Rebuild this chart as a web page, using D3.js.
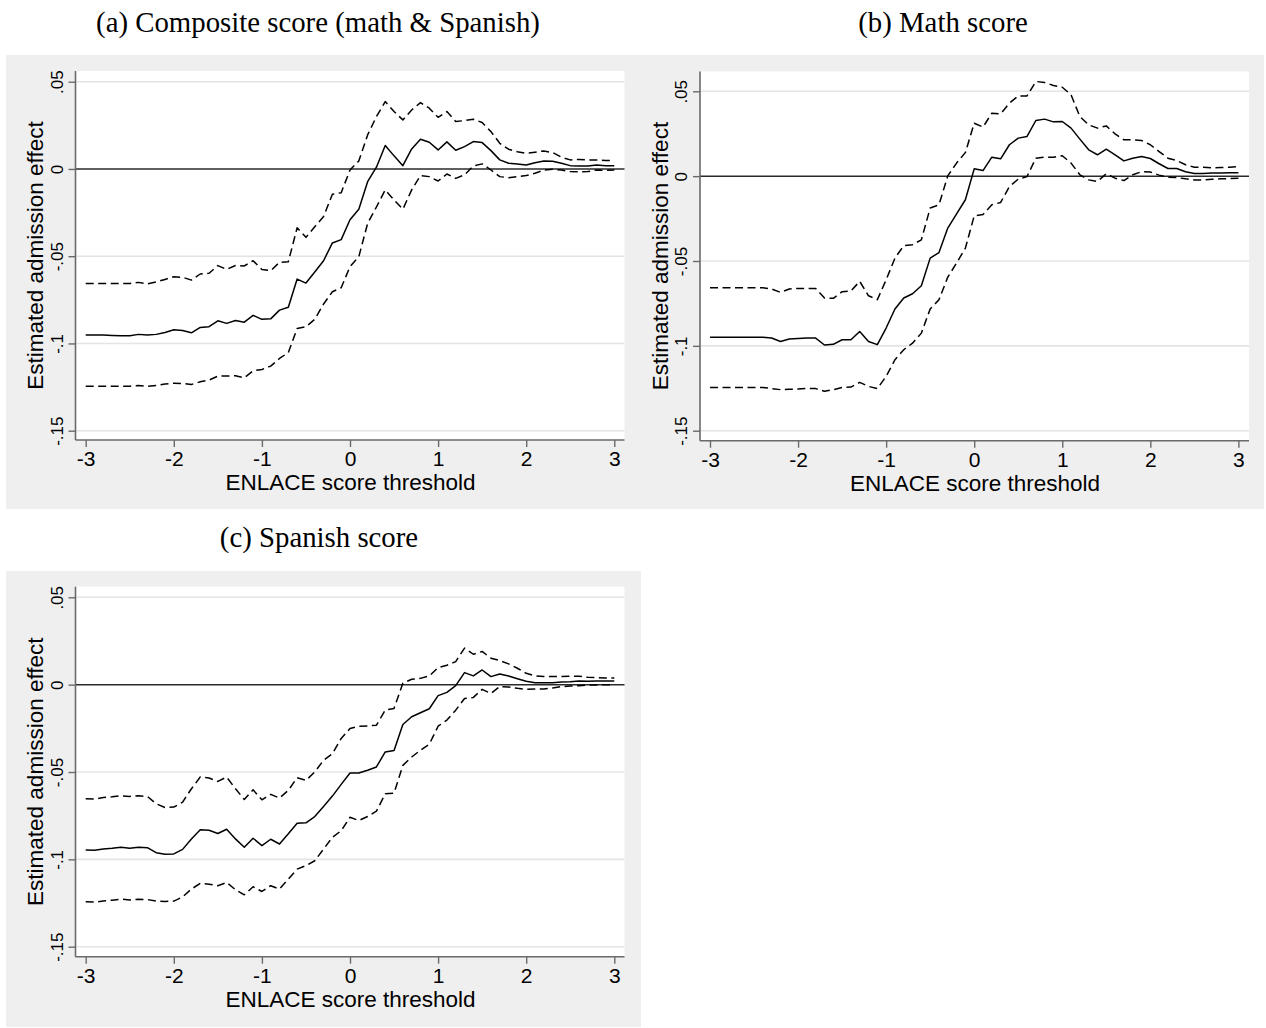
<!DOCTYPE html>
<html>
<head>
<meta charset="utf-8">
<script src="https://cdn.jsdelivr.net/npm/d3@7"></script>
<style>
  html, body { margin: 0; padding: 0; background: #ffffff; }
  svg { display: block; }
</style>
</head>
<body>
<svg id="chart" width="1266" height="1028"></svg>
<script>
// ENLACE score thresholds (x grid, step 0.1)
const thresholds = [
  -3.0, -2.9, -2.8, -2.7, -2.6, -2.5, -2.4, -2.3, -2.2, -2.1,
  -2.0, -1.9, -1.8, -1.7, -1.6, -1.5, -1.4, -1.3, -1.2, -1.1,
  -1.0, -0.9, -0.8, -0.7, -0.6, -0.5, -0.4, -0.3, -0.2, -0.1,
   0.0,  0.1,  0.2,  0.3,  0.4,  0.5,  0.6,  0.7,  0.8,  0.9,
   1.0,  1.1,  1.2,  1.3,  1.4,  1.5,  1.6,  1.7,  1.8,  1.9,
   2.0,  2.1,  2.2,  2.3,  2.4,  2.5,  2.6,  2.7,  2.8,  2.9,
   3.0
];

// (a) Composite score: point estimate and 95% CI bounds
const compositeEst = [
  -0.0952, -0.0952, -0.0952, -0.0954, -0.0956, -0.0956, -0.0948, -0.0952, -0.0948, -0.0937,
  -0.0922, -0.0926, -0.0939, -0.0908, -0.0904, -0.0870, -0.0885, -0.0868, -0.0878, -0.0839,
  -0.0862, -0.0859, -0.0809, -0.0793, -0.0631, -0.0654, -0.0591, -0.0526, -0.0424, -0.0405,
  -0.0291, -0.0231, -0.0073,  0.0010,  0.0134,  0.0075,  0.0019,  0.0115,  0.0170,  0.0153,
   0.0109,  0.0155,  0.0107,  0.0128,  0.0157,  0.0151,  0.0105,  0.0052,  0.0033,  0.0029,
   0.0023,  0.0036,  0.0046,  0.0044,  0.0033,  0.0019,  0.0017,  0.0017,  0.0023,  0.0019,
   0.0019
];
const compositeHi = [
  -0.0656, -0.0656, -0.0656, -0.0656, -0.0656, -0.0656, -0.0650, -0.0658, -0.0648, -0.0633,
  -0.0618, -0.0621, -0.0637, -0.0602, -0.0598, -0.0554, -0.0576, -0.0553, -0.0556, -0.0526,
  -0.0576, -0.0583, -0.0535, -0.0532, -0.0337, -0.0392, -0.0331, -0.0273, -0.0145, -0.0136,
  -0.0006,  0.0046,  0.0195,  0.0300,  0.0386,  0.0329,  0.0281,  0.0338,  0.0380,  0.0348,
   0.0296,  0.0329,  0.0272,  0.0277,  0.0285,  0.0266,  0.0214,  0.0147,  0.0113,  0.0099,
   0.0090,  0.0096,  0.0103,  0.0094,  0.0067,  0.0052,  0.0054,  0.0052,  0.0052,  0.0048,
   0.0048
];
const compositeLo = [
  -0.1245, -0.1245, -0.1245, -0.1245, -0.1245, -0.1245, -0.1241, -0.1245, -0.1241, -0.1233,
  -0.1228, -0.1229, -0.1235, -0.1220, -0.1210, -0.1187, -0.1187, -0.1185, -0.1197, -0.1157,
  -0.1149, -0.1130, -0.1086, -0.1052, -0.0914, -0.0904, -0.0862, -0.0774, -0.0704, -0.0681,
  -0.0560, -0.0503, -0.0312, -0.0218, -0.0120, -0.0178, -0.0231, -0.0120, -0.0038, -0.0044,
  -0.0069, -0.0029, -0.0054, -0.0034,  0.0017,  0.0029, -0.0006, -0.0044, -0.0050, -0.0044,
  -0.0038, -0.0025, -0.0006, -0.0002, -0.0006, -0.0015, -0.0017, -0.0015, -0.0006, -0.0008,
  -0.0006
];

// (b) Math score
const mathEst = [
  -0.0950, -0.0950, -0.0950, -0.0950, -0.0950, -0.0950, -0.0950, -0.0954, -0.0974, -0.0960,
  -0.0956, -0.0954, -0.0954, -0.0995, -0.0991, -0.0964, -0.0964, -0.0915, -0.0974, -0.0993,
  -0.0895, -0.0783, -0.0718, -0.0693, -0.0646, -0.0483, -0.0450, -0.0306, -0.0222, -0.0139,
   0.0043,  0.0033,  0.0112,  0.0102,  0.0185,  0.0224,  0.0234,  0.0328,  0.0336,  0.0320,
   0.0322,  0.0283,  0.0218,  0.0155,  0.0126,  0.0159,  0.0126,  0.0090,  0.0106,  0.0116,
   0.0104,  0.0073,  0.0045,  0.0045,  0.0026,  0.0016,  0.0016,  0.0018,  0.0018,  0.0020,
   0.0020
];
const mathHi = [
  -0.0658, -0.0658, -0.0658, -0.0658, -0.0658, -0.0658, -0.0658, -0.0665, -0.0685, -0.0665,
  -0.0662, -0.0662, -0.0662, -0.0718, -0.0720, -0.0681, -0.0677, -0.0620, -0.0705, -0.0728,
  -0.0611, -0.0483, -0.0410, -0.0404, -0.0375, -0.0188, -0.0169,  0.0002,  0.0077,  0.0139,
   0.0312,  0.0289,  0.0371,  0.0367,  0.0430,  0.0473,  0.0473,  0.0558,  0.0552,  0.0534,
   0.0524,  0.0479,  0.0351,  0.0302,  0.0283,  0.0296,  0.0249,  0.0214,  0.0214,  0.0210,
   0.0185,  0.0145,  0.0106,  0.0092,  0.0067,  0.0053,  0.0053,  0.0049,  0.0051,  0.0053,
   0.0057
];
const mathLo = [
  -0.1245, -0.1245, -0.1245, -0.1245, -0.1245, -0.1245, -0.1245, -0.1252, -0.1258, -0.1256,
  -0.1254, -0.1251, -0.1252, -0.1268, -0.1258, -0.1245, -0.1243, -0.1215, -0.1239, -0.1252,
  -0.1180, -0.1082, -0.1023, -0.0984, -0.0925, -0.0783, -0.0728, -0.0595, -0.0512, -0.0424,
  -0.0234, -0.0226, -0.0169, -0.0155, -0.0061, -0.0018, -0.0002,  0.0106,  0.0112,  0.0112,
   0.0120,  0.0077,  0.0008, -0.0022, -0.0031,  0.0014, -0.0012, -0.0026,  0.0008,  0.0026,
   0.0024,  0.0006, -0.0006, -0.0008, -0.0016, -0.0022, -0.0022, -0.0018, -0.0016, -0.0014,
  -0.0012
];

// (c) Spanish score
const spanishEst = [
  -0.0946, -0.0948, -0.0941, -0.0937, -0.0931, -0.0937, -0.0931, -0.0933, -0.0962, -0.0971,
  -0.0969, -0.0943, -0.0883, -0.0831, -0.0833, -0.0852, -0.0828, -0.0883, -0.0931, -0.0879,
  -0.0921, -0.0885, -0.0912, -0.0854, -0.0793, -0.0791, -0.0755, -0.0697, -0.0638, -0.0571,
  -0.0506, -0.0506, -0.0490, -0.0471, -0.0385, -0.0377, -0.0228, -0.0184, -0.0161, -0.0138,
  -0.0063, -0.0044, -0.0006,  0.0069,  0.0050,  0.0084,  0.0046,  0.0061,  0.0050,  0.0034,
   0.0019,  0.0011,  0.0011,  0.0011,  0.0015,  0.0017,  0.0021,  0.0019,  0.0021,  0.0021,
   0.0021
];
const spanishHi = [
  -0.0653, -0.0655, -0.0646, -0.0642, -0.0636, -0.0640, -0.0636, -0.0640, -0.0682, -0.0703,
  -0.0701, -0.0672, -0.0596, -0.0529, -0.0534, -0.0554, -0.0529, -0.0596, -0.0657, -0.0602,
  -0.0659, -0.0628, -0.0649, -0.0605, -0.0533, -0.0548, -0.0500, -0.0433, -0.0395, -0.0308,
  -0.0251, -0.0238, -0.0236, -0.0232, -0.0146, -0.0136,  0.0008,  0.0031,  0.0036,  0.0050,
   0.0098,  0.0111,  0.0132,  0.0209,  0.0174,  0.0190,  0.0151,  0.0138,  0.0119,  0.0094,
   0.0065,  0.0050,  0.0046,  0.0046,  0.0046,  0.0048,  0.0048,  0.0042,  0.0040,  0.0038,
   0.0038
];
const spanishLo = [
  -0.1243, -0.1245, -0.1238, -0.1234, -0.1228, -0.1232, -0.1228, -0.1230, -0.1239, -0.1241,
  -0.1239, -0.1215, -0.1170, -0.1138, -0.1142, -0.1151, -0.1132, -0.1174, -0.1203, -0.1157,
  -0.1184, -0.1151, -0.1170, -0.1113, -0.1056, -0.1036, -0.1008, -0.0941, -0.0874, -0.0836,
  -0.0759, -0.0778, -0.0755, -0.0724, -0.0625, -0.0621, -0.0462, -0.0414, -0.0375, -0.0341,
  -0.0238, -0.0203, -0.0146, -0.0079, -0.0073, -0.0027, -0.0050, -0.0011, -0.0013, -0.0021,
  -0.0027, -0.0025, -0.0025, -0.0019, -0.0011, -0.0008, -0.0006, -0.0002, -0.0002,  0.0000,
   0.0000
];

// Axis ticks and their labels
const xTicks = [-3, -2, -1, 0, 1, 2, 3];
const xTickLabels = ["-3", "-2", "-1", "0", "1", "2", "3"];
const yTicks = [0.05, 0, -0.05, -0.1, -0.15];
const yTickLabels = [".05", "0", "-.05", "-.1", "-.15"];

const panelTitles = ["(a) Composite score (math & Spanish)", "(b) Math score", "(c) Spanish score"];
const xTitle = "ENLACE score threshold";
const yTitle = "Estimated admission effect";

// Layout of each panel (pixel boxes)
const panels = [
  { title: panelTitles[0], est: compositeEst, lo: compositeLo, hi: compositeHi,
    titleX: 318, titleY: 31.5,
    bg: [6, 55, 641, 509],
    plot: { left: 75.5, right: 624.5, top: 71, bottom: 440 },
    xr: [85.7, 614.3], yr: [430.7, 81.7] },
  { title: panelTitles[1], est: mathEst, lo: mathLo, hi: mathHi,
    titleX: 943, titleY: 31.5,
    bg: [641, 55, 1264, 509],
    plot: { left: 700, right: 1249, top: 71.5, bottom: 440.7 },
    xr: [710, 1238.4], yr: [430.7, 91.3] },
  { title: panelTitles[2], est: spanishEst, lo: spanishLo, hi: spanishHi,
    titleX: 319, titleY: 546.5,
    bg: [6, 571, 641, 1027],
    plot: { left: 75.5, right: 624.5, top: 586.7, bottom: 956.7 },
    xr: [85.7, 614.3], yr: [946.7, 597.3] }
];

const svg = d3.select("#chart");
const sansFont = "'Liberation Sans', Arial, Helvetica, sans-serif";
const serifFont = "'Liberation Serif', 'Times New Roman', Times, serif";
const axisColor = "#6a6a6a";

panels.forEach(p => {
  const g = svg.append("g");
  const x = d3.scaleLinear().domain([-3, 3]).range(p.xr);
  const y = d3.scaleLinear().domain([-0.15, 0.05]).range(p.yr);
  const pl = p.plot;

  // panel title
  svg.append("text")
    .attr("x", p.titleX).attr("y", p.titleY)
    .attr("text-anchor", "middle")
    .style("font-family", serifFont).style("font-size", "28.8px")
    .attr("fill", "#000")
    .text(p.title);

  // graph background
  g.append("rect")
    .attr("x", p.bg[0]).attr("y", p.bg[1])
    .attr("width", p.bg[2] - p.bg[0]).attr("height", p.bg[3] - p.bg[1])
    .attr("fill", "#efefef");

  // plot region
  g.append("rect")
    .attr("x", pl.left).attr("y", pl.top)
    .attr("width", pl.right - pl.left).attr("height", pl.bottom - pl.top)
    .attr("fill", "#ffffff");

  // horizontal grid lines
  g.append("g").selectAll("line")
    .data(yTicks.filter(v => v !== 0))
    .join("line")
    .attr("x1", pl.left).attr("x2", pl.right)
    .attr("y1", d => y(d)).attr("y2", d => y(d))
    .attr("stroke", "#e4e4e4").attr("stroke-width", 1.6);

  // reference line at zero
  g.append("line")
    .attr("x1", pl.left).attr("x2", pl.right)
    .attr("y1", y(0)).attr("y2", y(0))
    .attr("stroke", "#2a2a2a").attr("stroke-width", 1.5);

  // y axis
  const yAxis = d3.axisLeft(y).tickValues(yTicks).tickSize(7).tickPadding(6)
    .tickFormat((d, i) => yTickLabels[i]);
  const ya = g.append("g").attr("transform", `translate(${pl.left},0)`).call(yAxis);
  ya.select(".domain").attr("d", `M0,${pl.top}V${pl.bottom}`)
    .attr("stroke", axisColor).attr("stroke-width", 1.6);
  ya.selectAll(".tick line").attr("stroke", axisColor).attr("stroke-width", 1.4);
  ya.selectAll(".tick text")
    .attr("x", null).attr("dy", null)
    .attr("transform", "translate(-13,0) rotate(-90)")
    .attr("text-anchor", "middle")
    .attr("fill", "#000")
    .style("font-family", sansFont).style("font-size", "17px");

  // x axis
  const xAxis = d3.axisBottom(x).tickValues(xTicks).tickSize(7).tickPadding(4)
    .tickFormat((d, i) => xTickLabels[i]);
  const xa = g.append("g").attr("transform", `translate(0,${pl.bottom})`).call(xAxis);
  xa.select(".domain").attr("d", `M${pl.left},0H${pl.right}`)
    .attr("stroke", axisColor).attr("stroke-width", 1.6);
  xa.selectAll(".tick line").attr("stroke", axisColor).attr("stroke-width", 1.4);
  xa.selectAll(".tick text")
    .attr("y", 26).attr("dy", null)
    .attr("fill", "#000")
    .style("font-family", sansFont).style("font-size", "21px");

  // axis titles
  g.append("text")
    .attr("x", (pl.left + pl.right) / 2 + 0.5).attr("y", pl.bottom + 50)
    .attr("text-anchor", "middle")
    .style("font-family", sansFont).style("font-size", "22.5px")
    .attr("fill", "#000")
    .text(xTitle);
  g.append("text")
    .attr("transform", `translate(${pl.left - 32.5},${(pl.top + pl.bottom) / 2}) rotate(-90)`)
    .attr("text-anchor", "middle")
    .style("font-family", sansFont).style("font-size", "22.5px")
    .attr("fill", "#000")
    .text(yTitle);

  // estimate and confidence bounds
  const line = d3.line()
    .x((d, i) => x(thresholds[i]))
    .y(d => y(d));
  const series = [
    { values: p.hi, dash: "8,4.5" },
    { values: p.lo, dash: "8,4.5" },
    { values: p.est, dash: null }
  ];
  g.append("g").selectAll("path")
    .data(series)
    .join("path")
    .attr("d", d => line(d.values))
    .attr("fill", "none")
    .attr("stroke", "#000")
    .attr("stroke-width", 1.5)
    .attr("stroke-linejoin", "round")
    .attr("stroke-dasharray", d => d.dash);
});
</script>
</body>
</html>
